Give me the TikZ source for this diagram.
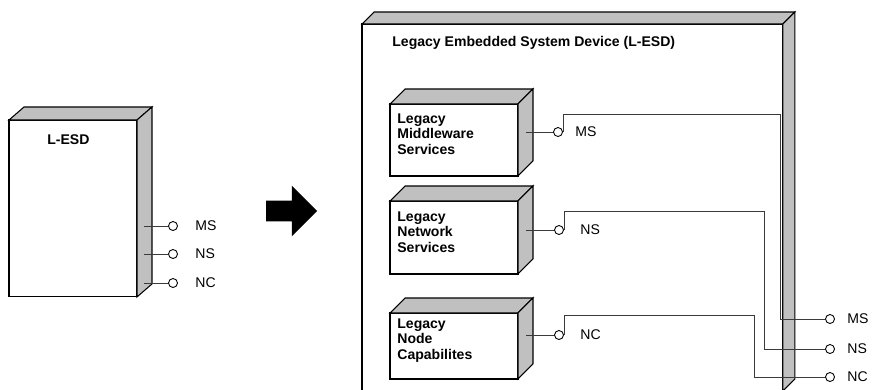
\documentclass[tikz,border=0pt]{standalone}
\usepackage{fontspec}
\setmainfont{Liberation Sans}
\usepackage{tikz}
\usepackage{xcolor}
\usetikzlibrary{calc,shapes.arrows}
\definecolor{Side}{HTML}{C0C0C0}
\definecolor{Wire}{HTML}{3A3A3A}
\newcommand{\boxfaces}[3]{%
  \draw[faceline,fill=Side] (#1.north west) -- ++(#2,-#3) -- ($(#1.north east)+(#2,-#3)$) -- (#1.north east) -- cycle;
  \draw[faceline,fill=Side] (#1.north east) -- ++(#2,-#3) -- ($(#1.south east)+(#2,-#3)$) -- (#1.south east) -- cycle;
}

\begin{document}
\begin{tikzpicture}[
  x=0.02cm,y=-0.02cm,
  faceline/.style={draw=black,line width=0.6pt,line join=miter},
  front/.style={draw=black,fill=white,line width=0.6pt,outer sep=0pt,inner sep=0pt,anchor=north west},
  boxtext/.style={anchor=north west,inner sep=0pt,align=left,font=\fontsize{8}{9}\selectfont\bfseries},
  plug/.style={circle,draw=black,fill=white,line width=0.5pt,minimum size=0.18cm,inner sep=0pt},
  tag/.style={anchor=west,inner sep=0pt,font=\fontsize{8}{9}\selectfont},
  wire/.style={draw=Wire,line width=0.5pt}
]
\clip (0,0) rectangle (875,389);
\node[front,minimum width=2.56cm,minimum height=3.54cm] (esd) at (9,120) {};
\boxfaces{esd}{15}{13}
\node[boxtext] (esdname) at (47,134) {L-ESD};
\coordinate (p1) at (144,226);
\coordinate (p2) at (144,254);
\coordinate (p3) at (144,283);
\node[plug] (q1) at (173,226) {};
\node[plug] (q2) at (173,254) {};
\node[plug] (q3) at (173,283) {};
\draw[wire] (p1) -- (q1);
\draw[wire] (p2) -- (q2);
\draw[wire] (p3) -- (q3);
\node[tag] (qt1) at (195,226) {MS};
\node[tag] (qt2) at (195,254) {NS};
\node[tag] (qt3) at (195,283) {NC};
\node[single arrow,fill=black,draw=none,inner sep=0.2cm,minimum height=1.02cm,minimum width=1.0cm,single arrow head extend=0.3cm] (becomes) at (286.5,211) {};
\node[front,minimum width=8.42cm,minimum height=7.34cm] (dev) at (362,24) {};
\boxfaces{dev}{12}{12}
\node[boxtext,anchor=west] (devname) at (392,43) {Legacy Embedded System Device (L-ESD)};
\node[front,minimum width=2.56cm,minimum height=1.44cm] (mw) at (390,104) {};
\boxfaces{mw}{15}{15}
\node[boxtext] (mwname) at (397,113) {Legacy\\Middleware\\Services};
\node[front,minimum width=2.56cm,minimum height=1.46cm] (nw) at (390,201) {};
\boxfaces{nw}{15}{15}
\node[boxtext] (nwname) at (397,211) {Legacy\\Network\\Services};
\node[front,minimum width=2.56cm,minimum height=1.32cm] (nc) at (390,313) {};
\boxfaces{nc}{15}{15}
\node[boxtext] (ncname) at (397,318) {Legacy\\Node\\Capabilites};
\coordinate (s1) at (526,132);
\coordinate (s2) at (526,230);
\coordinate (s3) at (526,335);
\node[plug] (c1) at (558,132) {};
\node[plug] (c2) at (559,230) {};
\node[plug] (c3) at (559,335) {};
\node[tag] (ct1) at (575,132) {MS};
\node[tag] (ct2) at (580,230) {NS};
\node[tag] (ct3) at (580,335) {NC};
\node[plug] (o1) at (830,319) {};
\node[plug] (o2) at (830,349) {};
\node[plug] (o3) at (830,377) {};
\node[tag] (ot1) at (847,319) {MS};
\node[tag] (ot2) at (847,349) {NS};
\node[tag] (ot3) at (847,377) {NC};
\coordinate (k1) at (780,114);
\coordinate (k2) at (764,211);
\coordinate (k3) at (754,315);
\draw[wire] (s1) -- (c1);
\draw[wire] (s2) -- (c2);
\draw[wire] (s3) -- (c3);
\draw[wire] (c1.east) |- (k1) |- (o1.west);
\draw[wire] (c2.east) |- (k2) |- (o2.west);
\draw[wire] (c3.east) |- (k3) |- (o3.west);
\end{tikzpicture}
\end{document}
